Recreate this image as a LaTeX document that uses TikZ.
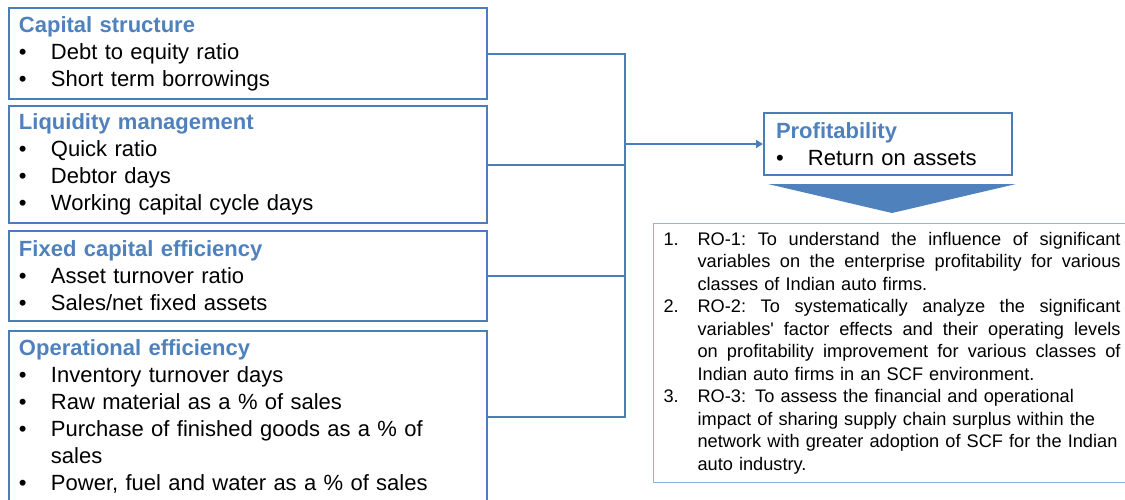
\documentclass[tikz,border=0pt]{standalone}
\usepackage{fontspec}
\setmainfont{Liberation Sans}
\usetikzlibrary{arrows.meta}

\definecolor{lineblue}{RGB}{74,126,187}
\definecolor{headblue}{RGB}{79,129,189}
\definecolor{roframe}{RGB}{149,179,215}

% bullet column and heading helpers
\newcommand{\itm}{\makebox[32pt][l]{\textbullet}}
\newcommand{\hd}[1]{{\bfseries\color{headblue}#1}}
\newcommand{\num}[1]{\makebox[34pt][l]{#1}}
% justified line: interword glue must be able to stretch
\newcommand{\jline}[1]{{\spaceskip=0.278em plus 3em minus 0.05em\relax
  \xspaceskip=\spaceskip\makebox[423pt][s]{#1}}}
\newcommand{\cont}{\hspace*{34pt}}

\begin{document}
\begin{tikzpicture}[x=1pt,y=-1pt,
  box/.style={draw=lineblue, line width=2pt, anchor=north west,
    inner xsep=10pt, inner ysep=0pt, align=left, text width=458pt,
    font=\fontsize{22}{27}\selectfont},
  profbox/.style={box, text width=224pt, inner xsep=12pt,
    minimum height=62pt},
  robox/.style={draw=roframe, line width=1.2pt, anchor=north west,
    inner xsep=10pt, inner ysep=0pt, align=left, text width=500pt,
    minimum height=259pt, font=\fontsize{18.2}{22.5}\selectfont},
  link/.style={draw=lineblue, line width=2pt},
  tip/.style={-{Triangle[length=7pt,width=8pt]}}
]
\useasboundingbox (0,0) rectangle (1125,499);
\clip (0,0) rectangle (1125,499);

% driver groups
\node[box, minimum height=91pt] (cap) at (8,7)
  {\hd{Capital structure}\\
   \itm Debt to equity ratio\\
   \itm Short term borrowings};
\node[box, minimum height=117pt] (liq) at (8,105)
  {\hd{Liquidity management}\\
   \itm Quick ratio\\
   \itm Debtor days\\
   \itm Working capital cycle days};
\node[box, minimum height=90pt] (fix) at (8,230)
  {\hd{Fixed capital efficiency}\\
   \itm Asset turnover ratio\\
   \itm Sales/net fixed assets};
\node[box, minimum height=171pt] (ops) at (8,330)
  {\hd{Operational efficiency}\\
   \itm Inventory turnover days\\
   \itm Raw material as a \% of sales\\
   \itm Purchase of finished goods as a \% of\\
   \hspace*{32pt}sales\\
   \itm Power, fuel and water as a \% of sales};

% outcome
\node[profbox] (prof) at (763,112)
  {\hd{Profitability}\\
   \itm Return on assets};

% research objectives
\node[robox] (ro) at (653,223)
  {\num{1.}\jline{RO-1: To understand the influence of significant}\\
   \cont\jline{variables on the enterprise profitability for various}\\
   \cont classes of Indian auto firms.\\
   \num{2.}\jline{RO-2: To systematically analyze the significant}\\
   \cont\jline{variables\textquotesingle{} factor effects and their operating levels}\\
   \cont\jline{on profitability improvement for various classes of}\\
   \cont Indian auto firms in an SCF environment.\\
   \num{3.}RO-3: To assess the financial and operational\\
   \cont impact of sharing supply chain surplus within the\\
   \cont network with greater adoption of SCF for the Indian\\
   \cont auto industry.};

% collecting bus
\coordinate (bus) at (625,0);
\draw[link] (cap.east) -- (cap.east -| bus) -- (ops.east -| bus) -- (ops.east);
\draw[link] (liq.east) -- (liq.east -| bus);
\draw[link] (fix.east) -- (fix.east -| bus);
\draw[link, tip] (prof.west -| bus) -- (prof.west);

% downward pointer
\fill[headblue] (768,184) -- (1016,184) -- (892,213) -- cycle;
\end{tikzpicture}
\end{document}
